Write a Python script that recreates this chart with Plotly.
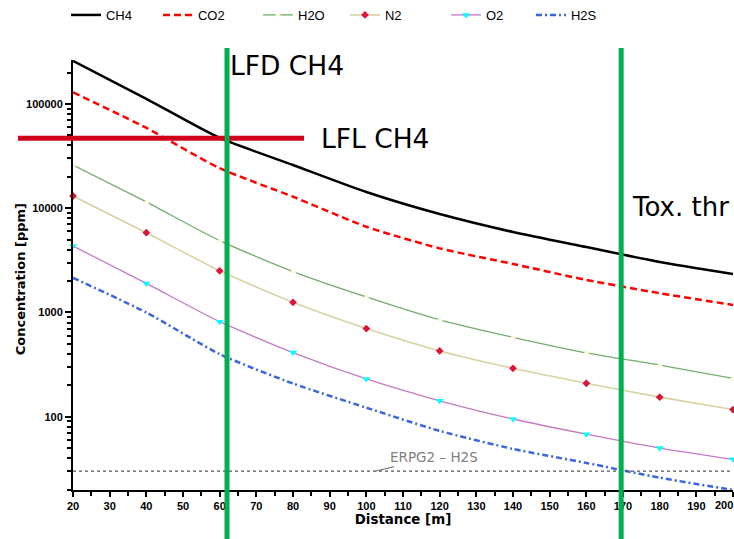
import math
import plotly.graph_objects as go

# ---- data ----
distance = [20, 40, 60, 80, 100, 120, 140, 160, 180, 200]
ch4 = [259000, 112000, 47200, 26000, 14300, 8790, 5910, 4240, 3050, 2340]
co2 = [129500, 58900, 24200, 12900, 6640, 4120, 2920, 2050, 1530, 1180]
h2o = [26000, 11500, 4880, 2470, 1410, 850, 578, 410, 313, 233]
n2 = [13100, 5820, 2510, 1250, 700, 427, 291, 209, 154, 117]
o2 = [4340, 1900, 815, 412, 230, 142, 95, 68, 50, 39]
h2s = [2150, 1000, 398, 208, 122, 73, 49, 36, 26, 19.8]

lfl_ch4 = 47000          # ppm
lfl_x_span = [5, 83]     # m (extent of the LFL marker line)
lfd_ch4 = 62             # m
tox_dist = 169.5         # m
erpg2_h2s = 30           # ppm

x_range = [20, 200]
x_tickvals = [20, 30, 40, 50, 60, 70, 80, 90, 100, 110, 120, 130, 140, 150, 160, 170, 180, 190, 200]
x_ticktext = ["20", "30", "40", "50", "60", "70", "80", "90", "100", "110", "120", "130",
              "140", "150", "160", "170", "180", "190", ""]
x_last_label = "200"
y_tickvals = [100, 1000, 10000, 100000]
y_ticktext = ["100", "1000", "10000", "100000"]

legend_names = ["legend", "legend2", "legend3", "legend4", "legend5", "legend6"]
legend_x = [0.0899, 0.2152, 0.3515, 0.4700, 0.6076, 0.7234]

fig = go.Figure()

def add(i, name, y, color, width, dash=None, symbol=None, msize=6, mcolor=None):
    mode = "lines+markers" if symbol else "lines"
    fig.add_trace(go.Scatter(
        x=distance, y=y, name=name, mode=mode, legend=legend_names[i],
        cliponaxis=False,
        line=dict(color=color, width=width, dash=dash, shape="spline", smoothing=0.6),
        marker=dict(symbol=symbol, size=msize, color=mcolor) if symbol else None,
    ))

add(0, "CH4", ch4, "#000000", 2.5)
add(1, "CO2", co2, "#ff0000", 2.5, dash="7px,4px")
add(2, "H2O", h2o, "#72ad6e", 1.3, symbol="triangle-up", msize=6, mcolor="#fff8d8")
add(3, "N2", n2, "#d8d2a2", 1.6, symbol="diamond", msize=6, mcolor="#dc143c")
add(4, "O2", o2, "#c479c4", 1.3, symbol="triangle-down", msize=7, mcolor="#00ffff")
add(5, "H2S", h2s, "#3a66e0", 2.5, dash="6px,3px,2px,3px")

def to_paper_x(v):
    return (v - x_range[0]) / (x_range[1] - x_range[0])

shapes = [
    dict(type="line", xref="paper", x0=0, x1=1, yref="y", y0=erpg2_h2s, y1=erpg2_h2s,
         line=dict(color="#555555", width=1.3, dash="dot")),
    dict(type="line", xref="paper", x0=to_paper_x(lfl_x_span[0]), x1=to_paper_x(lfl_x_span[1]),
         yref="y", y0=lfl_ch4, y1=lfl_ch4, line=dict(color="#d0021b", width=5)),
    dict(type="line", xref="x", x0=lfd_ch4, x1=lfd_ch4, yref="paper", y0=-0.14, y1=1.028,
         line=dict(color="#00b050", width=5)),
    dict(type="line", xref="x", x0=tox_dist, x1=tox_dist, yref="paper", y0=-0.14, y1=1.028,
         line=dict(color="#00b050", width=5)),
]

big = dict(family="DejaVu Sans", size=26.5, color="black")
titlefont_x = dict(family="DejaVu Sans", size=13.4, color="black", weight="bold")
titlefont_y = dict(family="DejaVu Sans", size=13, color="black", weight="bold")
tickfont = dict(family="Liberation Sans", size=11, color="black", weight="bold")

annotations = [
    dict(text="LFD CH4", xref="x", x=lfd_ch4 + 0.4, yref="paper", y=0.988,
         xanchor="left", yanchor="middle", showarrow=False, font=big),
    dict(text="LFL CH4", xref="x", x=87.2, yref="y", y=math.log10(lfl_ch4),
         xanchor="left", yanchor="middle", showarrow=False, font=big),
    dict(text="Tox. thr", xref="x", x=tox_dist + 2.3, yref="paper", y=0.658,
         xanchor="left", yanchor="middle", showarrow=False,
         font=dict(family="DejaVu Sans", size=26, color="black")),
    dict(text="ERPG2 – H2S", xref="x", x=102.5, yref="y", y=math.log10(erpg2_h2s),
         showarrow=True, arrowhead=0, arrowwidth=1, arrowcolor="#666666",
         ax=58, ay=-14, font=dict(family="DejaVu Sans", size=13.5, color="#808080")),
    dict(text="Concentration [ppm]", xref="paper", x=-0.0803, yref="paper", y=0.49,
         xanchor="center", yanchor="middle", textangle=-90, showarrow=False,
         font=titlefont_y),
    # last x tick label, kept inside the picture like in the reference
    dict(text=x_last_label, xref="paper", x=1.0, yref="paper", y=-0.0186,
         xanchor="right", yanchor="top", showarrow=False, font=tickfont,
         borderpad=0, xshift=1),
]

layout_legends = {}
for name, lx in zip(legend_names, legend_x):
    layout_legends[name] = dict(
        orientation="h", x=lx, xanchor="left", xref="container",
        y=1.1047, yanchor="middle", yref="paper",
        font=dict(family="Liberation Sans", size=13, color="black"),
        bgcolor="rgba(0,0,0,0)")

fig.update_layout(
    width=734, height=539,
    margin=dict(l=73, r=1, t=60, b=49, autoexpand=False),
    paper_bgcolor="white", plot_bgcolor="white",
    shapes=shapes, annotations=annotations,
    showlegend=True,
    xaxis=dict(range=x_range, tickmode="array", tickvals=x_tickvals, ticktext=x_ticktext,
               showgrid=False, zeroline=False,
               showline=True, linecolor="black", linewidth=2,
               ticks="outside", ticklen=5, tickwidth=1.5, tickcolor="black",
               ticklabeloverflow="allow",
               minor=dict(ticks="outside", ticklen=4, tick0=20, dtick=5, tickcolor="black", tickwidth=1.5),
               tickfont=tickfont,
               title=dict(text="Distance [m]", font=titlefont_x, standoff=3)),
    yaxis=dict(type="log", range=[1.2966, 5.422], showgrid=False, zeroline=False,
               showline=True, linecolor="black", linewidth=2,
               tickmode="array", tickvals=y_tickvals, ticktext=y_ticktext,
               ticks="outside", ticklen=6, tickwidth=1.5, tickcolor="black",
               ticklabeloverflow="allow",
               minor=dict(ticks="outside", ticklen=4, dtick="D1", tickcolor="black", tickwidth=1.5),
               tickfont=tickfont),
    **layout_legends,
)

fig.write_html(
    "out.html",
    config={"displayModeBar": False},
    post_script="document.body.style.margin='0';document.body.style.overflow='hidden';"
                "document.documentElement.style.overflow='hidden';",
)
